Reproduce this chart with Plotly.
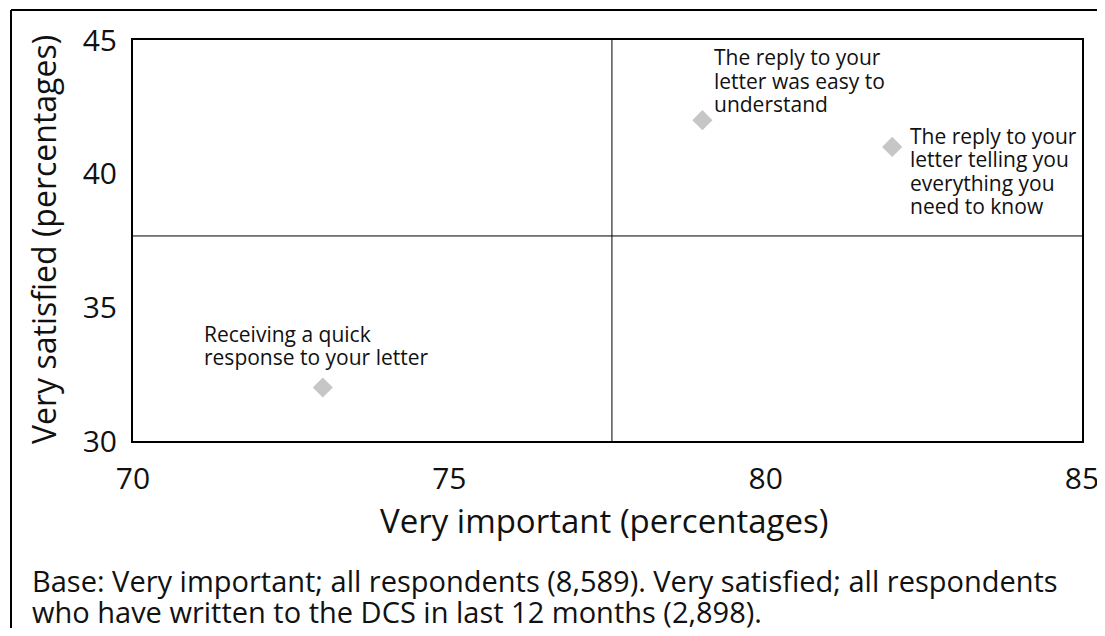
import plotly.graph_objects as go

label_lines = [["Receiving a quick", "response to your letter"],
               ["The reply to your", "letter was easy to", "understand"],
               ["The reply to your", "letter telling you", "everything you", "need to know"]]
very_important = [73, 79, 82]
very_satisfied = [32, 42, 41]
x_divider = 77.57
y_divider = 37.67
x_ticks = [70, 75, 80, 85]
y_ticks = [30, 35, 40, 45]
x_title = "Very important (percentages)"
y_title = "Very satisfied (percentages)"
footnote_lines = ["Base: Very important; all respondents (8,589). Very satisfied; all respondents",
                  "who have written to the DCS in last 12 months (2,898)."]

FONT = "Open Sans"
INK = "#111111"
W, H = 1089, 620
L, R, T, B = 125, 15, 32, 187
PW, PH = W - L - R, H - T - B


def px_x(px):  # figure pixel -> paper x
    return (px - L) / PW


def px_y(py):  # figure pixel -> paper y
    return (H - B - py) / PH


fig = go.Figure()
fig.add_trace(go.Scatter(
    x=very_important, y=very_satisfied, mode="markers",
    marker=dict(symbol="diamond", size=15.5, color="#c6c6c6"),
    hoverinfo="skip", showlegend=False))

# per-label placement: x shift and y shift of first line, line spacing
place = [(-121, 54), (10, 63), (16, 11)]
LINE = 23.3
for lines, xv, yv, (xs, ys0) in zip(label_lines, very_important, very_satisfied, place):
    for i, line in enumerate(lines):
        fig.add_annotation(x=xv, y=yv, xref="x", yref="y", text=line, showarrow=False,
                           xanchor="left", yanchor="middle", xshift=xs, yshift=ys0 - i * LINE,
                           font=dict(family=FONT, size=21, color=INK))

fig.add_shape(type="line", xref="x", yref="paper", x0=x_divider, x1=x_divider, y0=0, y1=1,
              line=dict(color="black", width=1))
fig.add_shape(type="line", xref="paper", yref="y", x0=0, x1=1, y0=y_divider, y1=y_divider,
              line=dict(color="black", width=1))
# outer frame (top and left)
fig.add_shape(type="line", xref="paper", yref="paper", x0=px_x(3), x1=px_x(W),
              y0=px_y(2), y1=px_y(2), line=dict(color="black", width=2))
fig.add_shape(type="line", xref="paper", yref="paper", x0=px_x(3), x1=px_x(3),
              y0=px_y(2), y1=px_y(H), line=dict(color="black", width=2))

# axis titles
fig.add_annotation(xref="paper", yref="paper", x=px_x(596), y=px_y(512), text=x_title,
                   showarrow=False, xanchor="center", yanchor="middle",
                   font=dict(family=FONT, size=33, color=INK))
fig.add_annotation(xref="paper", yref="paper", x=px_x(35), y=px_y(232), text=y_title,
                   showarrow=False, xanchor="center", yanchor="middle", textangle=-90,
                   font=dict(family=FONT, size=32, color=INK))

# footnote
for i, line in enumerate(footnote_lines):
    fig.add_annotation(xref="paper", yref="paper", x=px_x(22), y=px_y(572 + i * 31),
                       xanchor="left", yanchor="middle", showarrow=False, text=line,
                       font=dict(family=FONT, size=29, color=INK))

fig.update_xaxes(range=[70, 85], tickvals=x_ticks, ticks="", showgrid=False, zeroline=False,
                 showline=True, mirror=True, linecolor="black", linewidth=2, automargin=False,
                 tickfont=dict(family=FONT, size=30, color=INK), ticklabelstandoff=10,
                 ticklabeloverflow="allow")
fig.update_yaxes(range=[30, 45], tickvals=y_ticks, ticks="", showgrid=False, zeroline=False,
                 showline=True, mirror=True, linecolor="black", linewidth=2, automargin=False,
                 tickfont=dict(family=FONT, size=30, color=INK), ticklabelstandoff=8)
fig.update_layout(width=W, height=H, margin=dict(l=L, r=R, t=T, b=B),
                  plot_bgcolor="white", paper_bgcolor="white")
fig.write_html("out.html")
